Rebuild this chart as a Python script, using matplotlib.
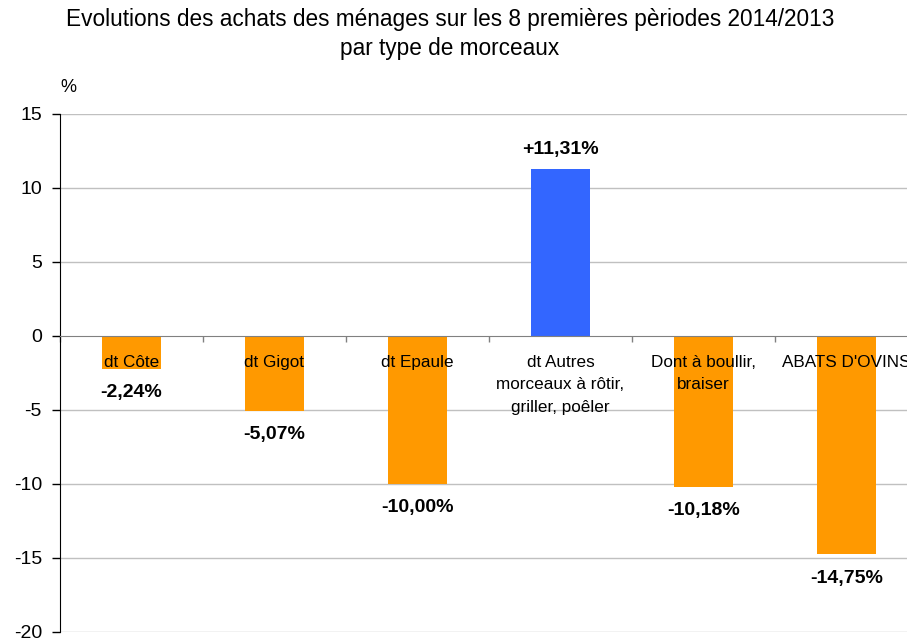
import matplotlib
matplotlib.use("Agg")
import matplotlib.pyplot as plt
import numpy as np

plt.rcParams['font.family'] = ['Liberation Sans', 'DejaVu Sans']

categories = ["dt Côte", "dt Gigot", "dt Epaule",
              "dt Autres\nmorceaux à rôtir,\ngriller, poêler",
              "Dont à boullir,\nbraiser", "ABATS D'OVINS"]
values = [-2.24, -5.07, -10.00, 11.31, -10.18, -14.75]
value_labels = ["-2,24%", "-5,07%", "-10,00%", "+11,31%", "-10,18%", "-14,75%"]
yticks = [-20, -15, -10, -5, 0, 5, 10, 15]
title = "Evolutions des achats des ménages sur les 8 premières pèriodes 2014/2013\npar type de morceaux"

orange = "#FF9900"
blue = "#3366FF"

fig = plt.figure(figsize=(9.07, 6.42), dpi=100)
ax = fig.add_axes([60/907, 1 - 632/642, 858/907, (632 - 114)/642])

x = np.arange(len(categories))
colors = [blue if v > 0 else orange for v in values]
ax.bar(x, values, width=0.41, color=colors, zorder=3)

ax.set_xlim(-0.5, len(categories) - 0.5)
ax.set_ylim(-20, 15)
ax.set_yticks(yticks)
ax.set_yticklabels([str(t) for t in yticks], fontsize=14)
ax.tick_params(axis='y', direction='out', length=6, width=1, pad=7, color='black')

for t in yticks:
    if t != 0:
        ax.axhline(t, color='#C0C0C0', lw=1, zorder=1)

ax.spines['top'].set_visible(False)
ax.spines['right'].set_visible(False)
ax.spines['left'].set_color('black')
ax.spines['bottom'].set_position(('data', 0))
ax.spines['bottom'].set_color('#808080')
ax.spines['bottom'].set_zorder(4)
ax.set_xticks(np.arange(-0.5, len(categories), 1))
ax.set_xticklabels([])
ax.tick_params(axis='x', direction='out', length=4, width=1, color='#808080')

for xi, cat in zip(x, categories):
    ax.annotate(cat, (xi, 0), xytext=(0, -13.5), textcoords='offset points',
                ha='center', va='top', fontsize=12.3, linespacing=1.62,
                zorder=5, annotation_clip=False)

for xi, v, lab in zip(x, values, value_labels):
    off = 8 if v > 0 else -11
    ax.annotate(lab, (xi, v), xytext=(0, off), textcoords='offset points',
                ha='center', va='bottom' if v > 0 else 'top',
                fontsize=14, fontweight='bold', zorder=5)

fig.text(68/907, 1 - 87/642, "%", fontsize=13, ha='center', va='center')
fig.text(450/907, 1 - 34/642, title, fontsize=16.3, ha='center', va='center',
         linespacing=1.3)

fig.savefig("out.png", dpi=100)
